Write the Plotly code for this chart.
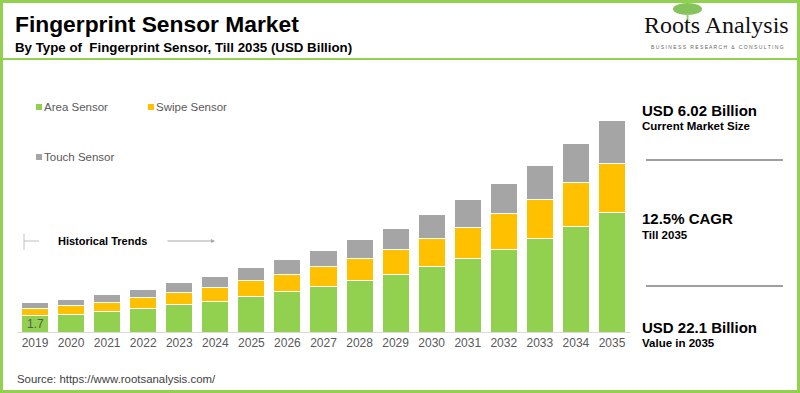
import plotly.graph_objects as go

years = [str(y) for y in range(2019, 2036)]
area = [1.70, 1.85, 2.16, 2.47, 2.85, 3.20, 3.73, 4.18, 4.77, 5.40, 6.02, 6.79, 7.69, 8.63, 9.78, 11.03, 12.45]
swipe = [0.77, 0.94, 0.97, 1.11, 1.25, 1.46, 1.67, 1.85, 2.09, 2.30, 2.61, 3.00, 3.24, 3.76, 4.07, 4.59, 5.16]
touch = [0.58, 0.63, 0.80, 0.88, 1.04, 1.18, 1.32, 1.57, 1.70, 1.91, 2.22, 2.43, 2.85, 3.06, 3.58, 4.03, 4.49]
series_names = ["Area Sensor", "Swipe Sensor", "Touch Sensor"]
colors = ["#92D050", "#FFC000", "#A5A5A5"]

W, H = 800, 393
L, R, T, B = 17, 170, 111, 61
PW, PH = W - L - R, H - T - B
FONT = "Liberation Sans, Arial, sans-serif"


def px(x):
    return (x - L) / PW


def py(y):
    return (H - B - y) / PH


fig = go.Figure()
for name, vals, col in zip(series_names, [area, swipe, touch], colors):
    fig.add_trace(go.Bar(x=years, y=vals, name=name, marker_color=col,
                         marker_line_color="#ffffff", marker_line_width=1))

ann = []
shapes = []


def text(x, y, s, size, color="#000000", bold=False, family=FONT, xanchor="left"):
    ann.append(dict(xref="paper", yref="paper", x=px(x), y=py(y), text=("<b>%s</b>" % s) if bold else s,
                    showarrow=False, xanchor=xanchor, yanchor="middle",
                    font=dict(size=size, color=color, family=family)))


def line(x0, y0, x1, y1, color, width):
    shapes.append(dict(type="line", xref="paper", yref="paper", x0=px(x0), y0=py(y0), x1=px(x1), y1=py(y1),
                       line=dict(color=color, width=width)))


# Title block
text(13, 24, "Fingerprint Sensor Market", 22.8, bold=True)
text(13, 48, "By Type of &nbsp;Fingerprint Sensor, Till 2035 (USD Billion)", 13.3, bold=True)
line(0, 59, 800, 59, "#92D050", 2)

# Logo
shapes.append(dict(type="circle", xref="paper", yref="paper", x0=px(673), y0=py(15), x1=px(702), y1=py(3),
                   fillcolor="#86C35A", line=dict(width=0)))
line(687.5, 13, 687.5, 22, "#9CCB7E", 2)
text(716, 25, "Roots Analysis", 24, color="#111111", family="Liberation Serif, Times New Roman, serif", xanchor="center")
text(717, 47, "B U S I N E S S &nbsp; R E S E A R C H &nbsp; &amp; &nbsp; C O N S U L T I N G", 5,
     color="#666666", xanchor="center")

# Legend
leg = [(36, 107, 0), (148, 107, 1), (36, 157, 2)]
for x, y, i in leg:
    shapes.append(dict(type="rect", xref="paper", yref="paper", x0=px(x), y0=py(y + 3), x1=px(x + 6), y1=py(y - 3),
                       fillcolor=colors[i], line=dict(width=0)))
    text(x + 6, y, series_names[i], 11.5, color="#595959")

# Historical trends
line(24, 234, 24, 250, "#BFBFBF", 1)
line(24, 241, 39, 241, "#BFBFBF", 1)
text(56, 241, "Historical Trends", 11, bold=True)
ann.append(dict(xref="paper", yref="paper", x=px(215), y=py(241), ax=-49, ay=0,
                axref="pixel", ayref="pixel", text="", showarrow=True, arrowhead=2, arrowsize=0.8,
                arrowwidth=1, arrowcolor="#A6A6A6"))

# Data label (first category, index 0)
ann.append(dict(xref="x", yref="y", x=0, y=area[0] / 2, text="%.1f" % area[0], showarrow=False,
                xanchor="center", yanchor="middle",
                font=dict(size=12, color="#595959", family=FONT)))

# Right panel
text(640, 110, "USD 6.02 Billion", 15, bold=True)
text(640, 126, "Current Market Size", 11.5, bold=True)
line(646, 160, 783, 160, "#7F7F7F", 1.5)
text(640, 218, "12.5% CAGR", 15, bold=True)
text(640, 235, "Till 2035", 11.5, bold=True)
line(646, 286, 783, 286, "#7F7F7F", 1.5)
text(640, 327, "USD 22.1 Billion", 15, bold=True)
text(640, 343, "Value in 2035", 11.5, bold=True)

# Source
text(15, 379, "Source: https://www.rootsanalysis.com/", 11.4, color="#404040")

# Border
shapes.append(dict(type="rect", xref="paper", yref="paper", x0=px(1.5), y0=py(391.5), x1=px(798.5), y1=py(1.5),
                   line=dict(color="#92D050", width=3), fillcolor="rgba(0,0,0,0)"))

fig.update_layout(
    width=W, height=H, margin=dict(l=L, r=R, t=T, b=B),
    barmode="stack", bargap=0.25, showlegend=False,
    paper_bgcolor="#ffffff", plot_bgcolor="#ffffff",
    font=dict(family=FONT),
    annotations=ann, shapes=shapes,
    xaxis=dict(type="category", showline=True, linecolor="#D9D9D9", linewidth=1, ticks="", showgrid=False,
               tickfont=dict(size=12, color="#595959"), range=[-0.5, 16.5]),
    yaxis=dict(visible=False, range=[0, PH / 9.58], showgrid=False),
)
fig.write_html("out.html", config={"displayModeBar": False},
               post_script="document.body.style.margin='0';document.body.style.padding='0';")
